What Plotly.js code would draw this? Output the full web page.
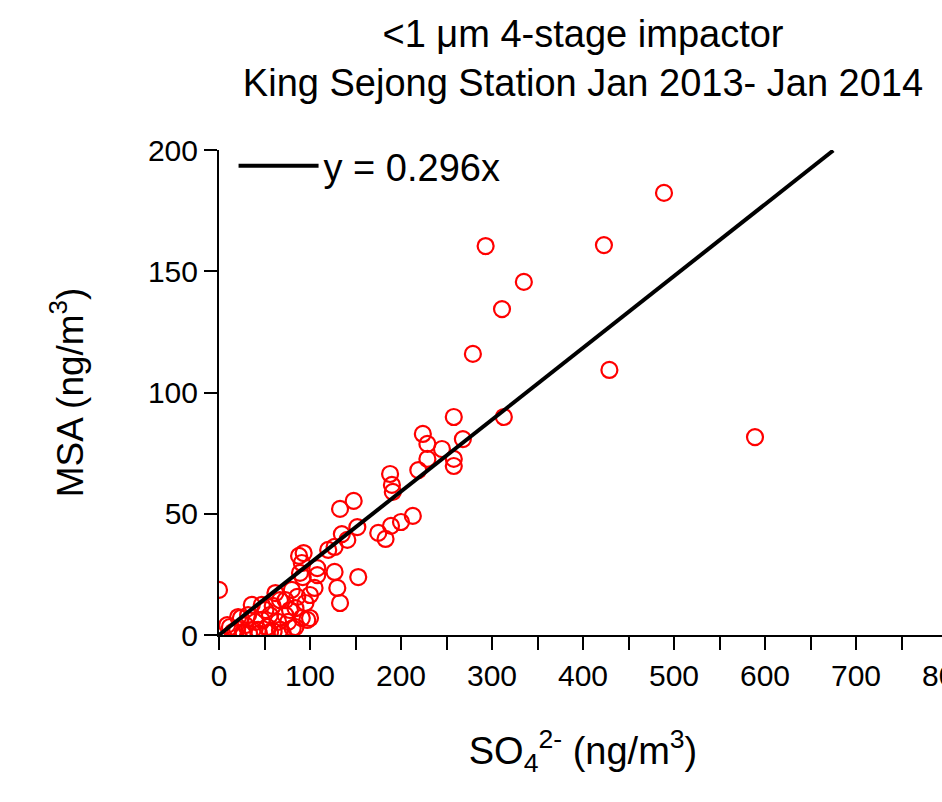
<!DOCTYPE html>
<html>
<head>
<meta charset="utf-8">
<script src="https://cdn.plot.ly/plotly-3.0.1.min.js"></script>
<style>
html,body{margin:0;padding:0;overflow:hidden;background:#fff;width:942px;height:802px;}
#chart{width:1000px;height:802px;}
</style>
</head>
<body>
<div id="chart"></div>
<script>
// SO4 2- (ng/m3) and MSA (ng/m3)
const so4 = [
  489, 293, 423, 335, 311, 279, 429, 589, 258, 313,
  268, 224, 229, 245, 229, 258, 258, 219, 188, 190,
  191, 148, 133, 213, 200, 189, 175, 183, 152, 135,
  141, 127, 120,
  0, 36, 21, 62, 67, 86, 84, 95, 97, 105,
  108, 89, 88, 93, 91, 108, 92, 127, 130, 133,
  153, 67, 53, 37, 15, 12, 9, 24, 29, 43,
  47, 56, 59, 73, 78, 76, 84, 100, 91, 51,
  32, 40, 27, 56, 65, 47, 73, 80, 100, 18,
  20, 33, 44, 60, 70, 81, 26
];
const msa = [
  182.3, 160.4, 160.8, 145.6, 134.4, 115.9, 109.3, 81.6, 89.9, 89.9,
  80.8, 82.9, 78.8, 76.7, 72.6, 72.6, 69.7, 68.0, 66.4, 61.9,
  59.0, 55.3, 52.0, 49.1, 46.6, 45.0, 42.1, 39.6, 44.5, 41.6,
  39.2, 36.3, 35.1,
  18.6, 12.4, 7.4, 17.3, 14.4, 15.7, 11.1, 13.2, 6.2, 19.4,
  24.7, 25.6, 32.6, 33.8, 29.7, 27.6, 23.9, 26.0, 19.4, 13.2,
  23.9, 2.1, 3.3, 2.1, 1.2, 3.3, 4.1, 7.0, 4.1, 2.1,
  6.2, 8.2, 12.0, 8.2, 10.3, 5.4, 3.3, 7.0, 7.0, 10.3,
  8.2, 5.4, 1.2, 1.2, 5.4, 12.4, 14.4, 18.6, 16.5, 1.0,
  2.5, 0.8, 0.5, 1.5, 0.9, 2.8, 0.6
];
const slope = 0.296;
const fitX = [0, 675];
const fitY = fitX.map(v => slope * v);
const xTickVals = [0, 100, 200, 300, 400, 500, 600, 700, 800];
const yTickVals = [0, 50, 100, 150, 200];

const FONT = 'Liberation Sans, Arial, sans-serif';

const traces = [
  {
    x: so4, y: msa, type: 'scatter', mode: 'markers', showlegend: false,
    marker: {symbol: 'circle-open', size: 16, color: '#ff0000', line: {width: 2.2, color: '#ff0000'}},
    hoverinfo: 'x+y'
  },
  {
    x: fitX, y: fitY, type: 'scatter', mode: 'lines', name: 'y = 0.296x',
    line: {color: '#000', width: 4}
  }
];

const axisCommon = {
  showgrid: false, zeroline: false, showline: true, linecolor: '#000', linewidth: 2,
  ticks: 'outside', ticklen: 13, tickwidth: 2, tickcolor: '#000',
  tickfont: {family: FONT, size: 30, color: '#000'},
  automargin: false
};

const layout = {
  width: 1000, height: 802,
  margin: {l: 219, r: 53, t: 150, b: 167},
  paper_bgcolor: '#fff', plot_bgcolor: '#fff',
  font: {family: FONT, color: '#000'},
  title: {
    text: '&lt;1 \u03bcm 4-stage impactor<br>King Sejong Station Jan 2013- Jan 2014',
    x: 0.5, xref: 'paper', xanchor: 'center',
    y: 0.942, yref: 'container', yanchor: 'top',
    font: {family: FONT, size: 38, color: '#000'}
  },
  xaxis: Object.assign({}, axisCommon, {
    range: [0, 800], tickvals: xTickVals,
    minor: {dtick: 50, ticks: 'outside', ticklen: 13, tickwidth: 2, tickcolor: '#000'},
    title: {text: 'SO<sub>4</sub><sup>2-</sup> (ng/m<sup>3</sup>)', standoff: 46, font: {family: FONT, size: 38, color: '#000'}}
  }),
  yaxis: Object.assign({}, axisCommon, {
    range: [0, 200], tickvals: yTickVals,
    title: {text: 'MSA (ng/m<sup>3</sup>)', standoff: 53, font: {family: FONT, size: 37, color: '#000'}}
  }),
  legend: {
    x: 0.02, y: 1.032, xanchor: 'left', yanchor: 'top',
    bgcolor: 'rgba(0,0,0,0)', itemwidth: 80,
    font: {family: FONT, size: 38, color: '#000'}
  },
  showlegend: true
};

Plotly.newPlot('chart', traces, layout, {displayModeBar: false, staticPlot: true});
</script>
</body>
</html>
